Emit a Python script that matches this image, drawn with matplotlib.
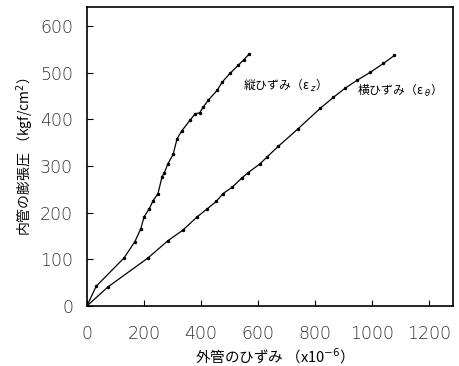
import matplotlib
matplotlib.use('Agg')
import matplotlib.pyplot as plt

plt.rcParams['font.family'] = ['Noto Sans CJK JP', 'DejaVu Sans']
plt.rcParams['mathtext.fontset'] = 'dejavusans'

# 縦ひずみ (axial strain) vs pressure
ez_strain = [0, 32, 130, 168, 189, 200, 218, 232, 249, 263, 270, 284, 302,
             316, 333, 361, 379, 395, 407, 425, 456, 474, 502, 530, 550, 568]
ez_press = [0, 42, 103, 138, 166, 191, 208, 226, 241, 277, 284, 305, 325,
            359, 376, 398, 412, 414, 426, 441, 462, 480, 499, 516, 528, 540]

# 横ひずみ (hoop strain) vs pressure
et_strain = [0, 74, 214, 284, 337, 386, 421, 453, 477, 508, 544, 565, 607,
             632, 670, 740, 818, 863, 905, 947, 993, 1039, 1077]
et_press = [0, 41, 103, 140, 163, 191, 208, 224, 241, 254, 275, 286, 305,
            320, 342, 380, 424, 447, 467, 484, 501, 520, 537]

xticks = [0, 200, 400, 600, 800, 1000, 1200]
yticks = [0, 100, 200, 300, 400, 500, 600]

fig = plt.figure(figsize=(4.6, 3.66), dpi=100)
ax = fig.add_axes([0.189, 0.164, 0.796, 0.817])

ax.plot(ez_strain, ez_press, color='black', lw=0.9, marker='o', ms=1.5)
ax.plot(et_strain, et_press, color='black', lw=0.9, marker='o', ms=1.5)

ax.text(547, 473, '縦ひずみ（ε $_z$）', fontsize=8.5, va='center')
ax.text(945, 462, '横ひずみ（ε $_\\theta$）', fontsize=8.5, va='center')

ax.set_xlim(0, 1283)
ax.set_ylim(0, 641)
ax.set_xticks(xticks)
ax.set_yticks(yticks)
ax.tick_params(direction='in', length=4, width=0.8, colors='black')
ax.tick_params(axis='x', pad=14)
ax.tick_params(axis='y', pad=10)
for lab in ax.get_xticklabels() + ax.get_yticklabels():
    lab.set_fontfamily('DejaVu Sans')
    lab.set_fontweight('light')
    lab.set_fontsize(12.5)
    lab.set_color('#333333')
for sp in ax.spines.values():
    sp.set_linewidth(1.2)

ax.set_xlabel('外管のひずみ （x10$^{-6}$）', fontsize=10.5, labelpad=2)
ax.set_ylabel('内管の膨張圧 （kgf/cm$^2$）', fontsize=10, labelpad=3)

fig.savefig('out.png', dpi=100)
